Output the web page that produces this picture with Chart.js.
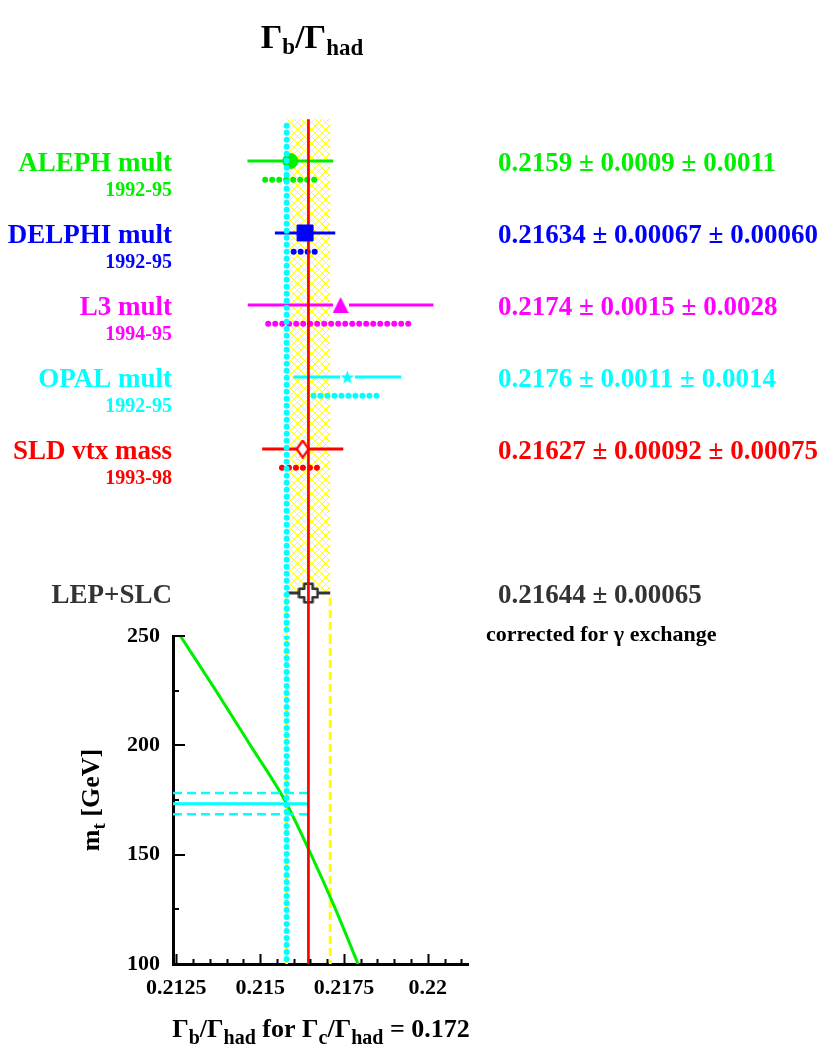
<!DOCTYPE html>
<html>
<head>
<meta charset="utf-8">
<title>Rb summary</title>
<script src="https://cdn.jsdelivr.net/npm/chart.js@4.4.1/dist/chart.umd.min.js"></script>
<style>
  html, body { margin: 0; padding: 0; background: #ffffff; }
  canvas { display: block; }
</style>
</head>
<body>
<canvas id="rb" width="824" height="1052"></canvas>
<script>
// ---- measurements of Gamma_b / Gamma_had ----
const experiments  = ['ALEPH mult', 'DELPHI mult', 'L3 mult', 'OPAL mult', 'SLD vtx mass'];
const periods      = ['1992-95', '1992-95', '1994-95', '1992-95', '1993-98'];
const rbValue      = [0.2159, 0.21634, 0.2174, 0.2176, 0.21627];
const rbStat       = [0.0009, 0.00067, 0.0015, 0.0011, 0.00092];
const rbSyst       = [0.0011, 0.00060, 0.0028, 0.0014, 0.00075];
const rbDecimals   = [4, 5, 4, 4, 5];
// half-widths of the plotted bars (total error, statistical part)
const barTotalErr  = [0.00128, 0.00090, 0.00277, 0.00161, 0.00121];
const barStatErr   = [0.00075, 0.00034, 0.00216, 0.00101, 0.00062];
const expRows      = [0, 1, 2, 3, 4];
const expColors    = ['#00ee00', '#0000ff', '#ff00ff', '#00ffff', '#ff0000'];

// ---- combined result ----
const avgName  = 'LEP+SLC';
const avgValue = 0.21644;
const avgErr   = 0.00065;
const avgRow   = 6;
const avgColor = '#333333';

// ---- Standard Model prediction versus m_t ----
const mtPoints = [250, 225, 200, 175, 150, 125, 100];
const rbSM     = [0.21262, 0.21368, 0.21471, 0.21573, 0.21652, 0.21725, 0.21792];
const mtCentral = 173.3;
const mtHigh    = 178.2;
const mtLow     = 168.5;
const rbAtMt    = 0.21579;

// ---- axes ----
const xMin = 0.2124, xMax = 0.2212;
const xMajorTicks = [0.2125, 0.215, 0.2175, 0.22];
const xTickLabels = ['0.2125', '0.215', '0.2175', '0.22'];
const xMinorStep  = 0.0005;
const yMajorTicks = [100, 150, 200, 250];
const yMinorTicks = [125, 175, 225];
const rowTop = -0.847, rowBottom = 6.597, bandTopRow = -0.58, dotsTopRow = -0.49;
const statRowOffset = 0.26;

const FONT = '"Liberation Serif", "Times New Roman", serif';
const ctx = document.getElementById('rb').getContext('2d');

// ---- marker glyphs ----
function glyph(w, h, paint) {
  const c = document.createElement('canvas');
  c.width = w; c.height = h;
  paint(c.getContext('2d'), w, h);
  return c;
}
const triangleGlyph = glyph(16, 16, (g, w, h) => {
  g.fillStyle = '#ffffff'; g.fillRect(0, 0, w, h);
  g.beginPath(); g.moveTo(w / 2, 0); g.lineTo(w, h); g.lineTo(0, h); g.closePath();
  g.fillStyle = expColors[2]; g.fill();
});
const starGlyph = glyph(15, 15, (g, w, h) => {
  g.fillStyle = '#ffffff'; g.fillRect(0, 0, w, h);
  g.beginPath();
  for (let k = 0; k < 10; k++) {
    const r = k % 2 ? 2.9 : 7.2;
    const a = -Math.PI / 2 + k * Math.PI / 5;
    const px = w / 2 + r * Math.cos(a), py = h / 2 + 0.6 + r * Math.sin(a);
    if (k) g.lineTo(px, py); else g.moveTo(px, py);
  }
  g.closePath(); g.fillStyle = expColors[3]; g.fill();
});
const diamondGlyph = glyph(15, 19, (g, w, h) => {
  g.beginPath(); g.moveTo(w / 2, 1.2); g.lineTo(w - 1.5, h / 2); g.lineTo(w / 2, h - 1.2); g.lineTo(1.5, h / 2); g.closePath();
  g.fillStyle = '#ffffff'; g.fill();
  g.lineWidth = 2.3; g.strokeStyle = expColors[4]; g.lineJoin = 'miter'; g.stroke();
});
const crossGlyph = glyph(22, 22, (g, w, h) => {
  const c = w / 2, a = 4.2, r = 9.2;
  const pts = [[-a,-r],[a,-r],[a,-a],[r,-a],[r,a],[a,a],[a,r],[-a,r],[-a,a],[-r,a],[-r,-a],[-a,-a]];
  g.beginPath();
  pts.forEach(([px, py], k) => k ? g.lineTo(c + px, c + py) : g.moveTo(c + px, c + py));
  g.closePath();
  g.fillStyle = '#ffffff'; g.fill();
  g.lineWidth = 2.6; g.lineJoin = 'round'; g.strokeStyle = avgColor; g.stroke();
});

// ---- hatched band fill ----
function hatch() {
  const t = document.createElement('canvas');
  t.width = 7; t.height = 7;
  const g = t.getContext('2d');
  g.strokeStyle = '#ffff00'; g.lineWidth = 0.9;
  g.beginPath();
  g.moveTo(-1, -1); g.lineTo(8, 8);
  g.moveTo(8, -1); g.lineTo(-1, 8);
  g.stroke();
  return ctx.createPattern(t, 'repeat');
}

// ---- datasets ----
function seg(data, yAxisID, opts) {
  return Object.assign({
    data, yAxisID, xAxisID: 'x', showLine: true, pointRadius: 0,
    borderWidth: 2, fill: false, tension: 0
  }, opts);
}
const bandLo = avgValue - avgErr, bandHi = avgValue + avgErr;
const datasets = [];

// average band (hatched) in the measurement panel
datasets.push(seg([
  { x: bandLo, y: bandTopRow }, { x: bandHi, y: bandTopRow },
  { x: bandHi, y: avgRow }, { x: bandLo, y: avgRow }, { x: bandLo, y: bandTopRow }
], 'yTop', { fill: 'shape', backgroundColor: hatch(), borderWidth: 0, borderColor: 'rgba(0,0,0,0)', order: 60 }));

// band edges continued as dashed lines
const dashedYellow = { borderColor: '#ffff00', borderWidth: 3, borderDash: [8, 4], order: 55 };
[bandLo, bandHi].forEach(v => {
  datasets.push(seg([{ x: v, y: avgRow + 0.07 }, { x: v, y: rowBottom }], 'yTop', dashedYellow));
  datasets.push(seg([{ x: v, y: 250 }, { x: v, y: 100 }], 'y', dashedYellow));
});

// Standard Model curve
datasets.push(seg(mtPoints.map((m, i) => ({ x: rbSM[i], y: m })), 'y',
  { borderColor: '#00ee00', borderWidth: 3, cubicInterpolationMode: 'monotone', order: 50 }));

// top mass band
datasets.push(seg([{ x: xMin, y: mtCentral }, { x: avgValue, y: mtCentral }], 'y',
  { borderColor: '#00ffff', borderWidth: 3, order: 45 }));
[mtHigh, mtLow].forEach(m => datasets.push(seg([{ x: xMin, y: m }, { x: avgValue, y: m }], 'y',
  { borderColor: '#00ffff', borderWidth: 2.5, borderDash: [9, 5], order: 45 })));

// measurements: total error bar, statistical part dotted, marker
const markerStyles = [
  { pointStyle: 'circle', pointRadius: 7.5, order: 25 },
  { pointStyle: 'rect', pointRadius: 11.3, order: 8 },
  { pointStyle: triangleGlyph, pointRadius: 8, order: 25 },
  { pointStyle: starGlyph, pointRadius: 7.5, order: 25 },
  { pointStyle: diamondGlyph, pointRadius: 8, order: 25 }
];
experiments.forEach((name, i) => {
  const v = rbValue[i], r = expRows[i], col = expColors[i];
  datasets.push(seg([{ x: v - barTotalErr[i], y: r }, { x: v + barTotalErr[i], y: r }], 'yTop',
    { borderColor: col, borderWidth: 3, order: 30 }));
  datasets.push(seg([{ x: v - barStatErr[i], y: r + statRowOffset }, { x: v + barStatErr[i], y: r + statRowOffset }], 'yTop',
    { borderColor: col, borderWidth: 6, borderDash: [0, 7], borderCapStyle: 'round', order: 40 }));
  const ms = markerStyles[i];
  datasets.push({
    data: [{ x: v, y: r }], yAxisID: 'yTop', xAxisID: 'x', showLine: false,
    pointStyle: ms.pointStyle, pointRadius: ms.pointRadius,
    pointBackgroundColor: col, pointBorderColor: col, pointBorderWidth: 1, order: ms.order
  });
});

// combined value
datasets.push(seg([{ x: avgValue - avgErr, y: avgRow }, { x: avgValue + avgErr, y: avgRow }], 'yTop',
  { borderColor: avgColor, borderWidth: 3, order: 30 }));
datasets.push({
  data: [{ x: avgValue, y: avgRow }], yAxisID: 'yTop', xAxisID: 'x', showLine: false,
  pointStyle: crossGlyph, pointRadius: 10, order: 25
});

// SM prediction at the measured top mass (dotted) and the average (solid)
const cyanDots = { borderColor: '#00ffff', borderWidth: 6, borderDash: [0, 7], borderCapStyle: 'round', order: 20 };
datasets.push(seg([{ x: rbAtMt, y: dotsTopRow }, { x: rbAtMt, y: rowBottom }], 'yTop', cyanDots));
datasets.push(seg([{ x: rbAtMt, y: 250 }, { x: rbAtMt, y: 100 }], 'y', Object.assign({}, cyanDots, { borderDashOffset: 6 })));
const redLine = { borderColor: '#ff0000', borderWidth: 2.7, order: 10 };
datasets.push(seg([{ x: avgValue, y: bandTopRow }, { x: avgValue, y: rowBottom }], 'yTop', redLine));
datasets.push(seg([{ x: avgValue, y: 250 }, { x: avgValue, y: 100 }], 'y', redLine));

// ---- text helpers ----
function runs(parts) {
  return parts.map(p => Object.assign({ size: 26, dy: 0 }, p));
}
function richWidth(c, parts) {
  let w = 0;
  parts.forEach(p => { c.font = `bold ${p.size}px ${FONT}`; w += c.measureText(p.t).width; });
  return w;
}
function drawRich(c, parts, x, y, align, color) {
  parts = runs(parts);
  let cx = align === 'center' ? x - richWidth(c, parts) / 2 : x;
  c.fillStyle = color || '#000';
  c.textAlign = 'left';
  c.textBaseline = 'alphabetic';
  parts.forEach(p => {
    c.font = `bold ${p.size}px ${FONT}`;
    c.fillText(p.t, cx, y + p.dy);
    cx += c.measureText(p.t).width;
  });
}

const decorations = {
  id: 'decorations',
  afterDraw(chart) {
    const c = chart.ctx;
    const xs = chart.scales.x, ys = chart.scales.y, yt = chart.scales.yTop;
    const area = chart.chartArea;
    c.save();

    // inward tick marks
    c.strokeStyle = '#000';
    c.lineWidth = 2;
    c.beginPath();
    for (let k = 0; ; k++) {
      const v = xMajorTicks[0] + k * xMinorStep;
      if (v > xs.max + 1e-9) break;
      const major = xMajorTicks.some(t => Math.abs(t - v) < 1e-7);
      const px = Math.round(xs.getPixelForValue(v)) + 0.5;
      c.moveTo(px, area.bottom);
      c.lineTo(px, area.bottom - (major ? 10 : 5));
    }
    yMajorTicks.concat(yMinorTicks).forEach(v => {
      const major = yMajorTicks.includes(v);
      const py = Math.round(ys.getPixelForValue(v));
      c.moveTo(area.left, py);
      c.lineTo(area.left + (major ? 12 : 6), py);
    });
    c.stroke();

    // experiment labels and results
    experiments.forEach((name, i) => {
      const py = yt.getPixelForValue(expRows[i]);
      c.fillStyle = expColors[i];
      c.textBaseline = 'alphabetic';
      c.textAlign = 'right';
      c.font = `bold 27px ${FONT}`;
      c.fillText(name, area.left - 1, py + 10);
      c.font = `bold 20px ${FONT}`;
      c.fillText(periods[i], area.left - 1, py + 35);
      c.textAlign = 'left';
      c.font = `bold 27px ${FONT}`;
      const d = rbDecimals[i];
      c.fillText(`${rbValue[i].toFixed(d)} \u00b1 ${rbStat[i].toFixed(d)} \u00b1 ${rbSyst[i].toFixed(d)}`, 498, py + 10);
    });
    const pa = yt.getPixelForValue(avgRow);
    c.fillStyle = avgColor;
    c.textAlign = 'right';
    c.font = `bold 27px ${FONT}`;
    c.fillText(avgName, area.left - 1, pa + 10);
    c.textAlign = 'left';
    c.fillText(`${avgValue.toFixed(5)} \u00b1 ${avgErr.toFixed(5)}`, 498, pa + 10);
    c.fillStyle = '#000';
    c.font = `bold 22px ${FONT}`;
    c.fillText('corrected for \u03b3 exchange', 486, pa + 48);

    // titles
    drawRich(c, [{ t: '\u0393', size: 34 }, { t: 'b', size: 23, dy: 6 }, { t: '/\u0393', size: 34 }, { t: 'had', size: 23, dy: 7 }],
      312, 48, 'center');
    drawRich(c, [
      { t: '\u0393' }, { t: 'b', size: 20, dy: 7 }, { t: '/\u0393' }, { t: 'had', size: 20, dy: 7 },
      { t: ' for \u0393' }, { t: 'c', size: 20, dy: 7 }, { t: '/\u0393' }, { t: 'had', size: 20, dy: 7 },
      { t: ' = 0.172' }
    ], 321, 1037, 'center');
    c.save();
    c.translate(99, 800);
    c.rotate(-Math.PI / 2);
    drawRich(c, [{ t: 'm' }, { t: 't', size: 19, dy: 6 }, { t: ' [GeV]' }], 0, 0, 'center');
    c.restore();

    c.restore();
  }
};

new Chart(ctx, {
  type: 'line',
  data: { datasets },
  plugins: [decorations],
  options: {
    responsive: false,
    animation: false,
    events: [],
    layout: { padding: { left: 0, right: 356, top: 100, bottom: 0 } },
    plugins: { legend: { display: false }, tooltip: { enabled: false }, title: { display: false } },
    scales: {
      x: {
        type: 'linear', position: 'bottom', min: xMin, max: xMax,
        afterFit(s) { s.height = 88; },
        afterBuildTicks(s) { s.ticks = xMajorTicks.map(v => ({ value: v })); },
        grid: { display: false, drawTicks: false },
        border: { display: true, color: '#000', width: 3 },
        ticks: {
          autoSkip: false, maxRotation: 0, padding: 11, color: '#000',
          font: { family: FONT, size: 22, weight: 'bold' },
          callback: (v, i) => xTickLabels[i]
        }
      },
      y: {
        type: 'linear', position: 'left', min: 100, max: 250,
        stack: 'panels', stackWeight: 328, weight: 0,
        afterFit(s) { s.width = 173; },
        afterBuildTicks(s) { s.ticks = yMajorTicks.map(v => ({ value: v })); },
        grid: { display: false, drawTicks: false },
        border: { display: true, color: '#000', width: 3 },
        ticks: {
          autoSkip: false, padding: 13, color: '#000',
          font: { family: FONT, size: 22, weight: 'bold' },
          callback: v => String(v)
        }
      },
      yTop: {
        type: 'linear', position: 'left', min: rowTop, max: rowBottom, reverse: true,
        stack: 'panels', stackWeight: 536, weight: 1, display: false
      }
    }
  }
});
</script>
</body>
</html>
